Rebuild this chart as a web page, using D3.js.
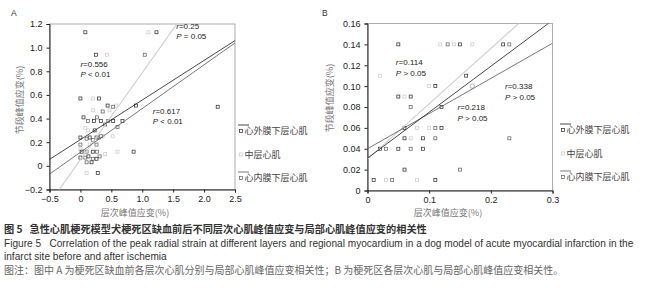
<!DOCTYPE html>
<html>
<head>
<meta charset="utf-8">
<script src="https://cdn.jsdelivr.net/npm/d3@7"></script>
<style>
  body { margin: 0; background: #fff; }
  svg { display: block; font-family: "Liberation Sans", Arial, sans-serif; }
  .cjk { font-family: "Noto Sans CJK SC", sans-serif; }
  .cap { white-space: pre; }
</style>
</head>
<body>
<div id="chart"></div>
<script>
// Panel A: peak strain of each layer vs regional strain, before ischemia
const epiA = [[0.08,1.13],[1.23,1.13],[0.25,0.94],[0.0,0.57],[0.3,0.57],[0.44,0.51],[0.9,0.51],[2.22,0.5],[0.05,0.41],[0.22,0.38],[0.33,0.38],[0.53,0.38],[0.68,0.38],[0.0,0.24],[0.15,0.24],[0.26,0.24],[0.23,0.3],[0.02,0.12],[0.2,0.12],[0.0,0.07],[0.13,0.08],[0.26,0.06],[0.18,0.03],[0.28,-0.06],[0.86,0.12]];
const midA = [[1.1,1.13],[0.43,0.94],[0.2,0.57],[0.47,0.47],[0.52,0.25],[0.6,0.12],[0.4,0.1],[0.08,0.32],[0.12,0.3],[0.0,0.14],[0.1,-0.06],[0.36,0.25],[0.15,0.18],[0.58,0.51],[0.2,0.47]];
const endoA = [[1.04,0.94],[0.53,0.5],[0.12,0.38],[0.27,0.41],[0.36,0.46],[0.45,0.38],[0.4,0.35],[0.0,0.18],[0.1,0.23],[0.3,0.24],[0.33,0.25],[0.2,0.22],[0.26,0.18],[0.1,0.12],[0.27,0.12],[0.08,0.07],[0.2,0.06],[0.31,0.08],[0.1,0.03],[0.6,0.33]];
// Panel B: infarct site
const epiB = [[0.05,0.14],[0.15,0.14],[0.22,0.14],[0.16,0.11],[0.11,0.10],[0.05,0.09],[0.07,0.09],[0.12,0.08],[0.06,0.06],[0.12,0.06],[0.06,0.05],[0.09,0.05],[0.02,0.04],[0.05,0.04],[0.09,0.04],[0.06,0.02],[0.01,0.01],[0.11,0.01]];
const midB = [[0.118,0.14],[0.14,0.14],[0.17,0.14],[0.02,0.11],[0.10,0.10],[0.06,0.09],[0.08,0.06],[0.10,0.06],[0.07,0.05],[0.03,0.01],[0.08,0.01]];
const endoB = [[0.13,0.14],[0.23,0.14],[0.07,0.08],[0.11,0.06],[0.11,0.05],[0.23,0.05],[0.03,0.04],[0.07,0.04],[0.15,0.02],[0.04,0.01]];
const circleB = [[0.17,0.10]];

// Fitted trend lines: [intercept, slope]
const fitA = { epi: [0.222, 0.335], mid: [0.052, 0.736], endo: [0.115, 0.37] };
const fitB = { epi: [0.031, 0.44], mid: [0.03, 0.53], endo: [0.04, 0.337] };

const ticksAx = [-0.5, 0, 0.5, 1.0, 1.5, 2.0, 2.5];
const ticksAy = [-0.2, 0, 0.2, 0.4, 0.6, 0.8, 1.0, 1.2];
const ticksBx = [0, 0.1, 0.2, 0.3];
const ticksBy = [0, 0.02, 0.04, 0.06, 0.08, 0.10, 0.12, 0.14, 0.16];

const notesA = [{ x: 0.0, y: 0.84, r: '0.556', p: 'P < 0.01' }, { x: 1.55, y: 1.16, r: '0.25', p: 'P = 0.05' }, { x: 1.17, y: 0.44, r: '0.617', p: 'P < 0.01' }];
const notesB = [{ x: 0.046, y: 0.12, r: '0.114', p: 'P > 0.05' }, { x: 0.223, y: 0.097, r: '0.338', p: 'P > 0.05' }, { x: 0.146, y: 0.077, r: '0.218', p: 'P > 0.05' }];

const legendLabels = ['心外膜下层心肌', '中层心肌', '心内膜下层心肌'];
const caption = [
  '图 5   急性心肌梗死模型犬梗死区缺血前后不同层次心肌峰值应变与局部心肌峰值应变的相关性',
  'Figure 5   Correlation of the peak radial strain at different layers and regional myocardium in a dog model of acute myocardial infarction in the',
  'infarct site before and after ischemia',
  '图注：图中 A 为梗死区缺血前各层次心肌分别与局部心肌峰值应变相关性；B 为梗死区各层次心肌与局部心肌峰值应变相关性。'
];

const style = {
  epi: { stroke: '#262626', line: '#1a1a1a', lw: 0.8 },
  mid: { stroke: '#c8c8c8', line: '#cfcfcf', lw: 1.1 },
  endo: { stroke: '#5a5a5a', line: '#555', lw: 0.8 }
};

const svg = d3.select('#chart').append('svg').attr('width', 647).attr('height', 300);

function panel(o) {
  const x = d3.scaleLinear().domain(o.xDom).range([o.left, o.right]);
  const y = d3.scaleLinear().domain(o.yDom).range([o.bottom, o.top]);
  const g = svg.append('g');
  const clipId = 'clip' + o.name;
  g.append('clipPath').attr('id', clipId).append('rect')
    .attr('x', o.left).attr('y', o.top).attr('width', o.right - o.left).attr('height', o.bottom - o.top);

  // light frame round the plot area
  g.append('rect').attr('x', o.left).attr('y', o.top).attr('width', o.right - o.left).attr('height', o.bottom - o.top)
    .attr('fill', 'none').attr('stroke', '#9a9a9a').attr('stroke-width', 0.8);

  g.append('g').attr('transform', `translate(0,${o.bottom})`)
    .call(d3.axisBottom(x).tickValues(o.xt).tickSize(3).tickPadding(3).tickFormat(o.fx))
    .call(a => a.selectAll('text').attr('font-size', 9).attr('fill', '#222').attr('font-family', 'Liberation Sans'))
    .call(a => a.selectAll('line,path').attr('stroke', '#222'));
  g.append('g').attr('transform', `translate(${o.left},0)`)
    .call(d3.axisLeft(y).tickValues(o.yt).tickSize(3).tickPadding(4).tickFormat(o.fy))
    .call(a => a.selectAll('text').attr('font-size', 9).attr('fill', '#222').attr('font-family', 'Liberation Sans'))
    .call(a => a.selectAll('line,path').attr('stroke', '#222'));

  const plot = g.append('g').attr('clip-path', `url(#${clipId})`);
  // points
  ['mid', 'endo', 'epi'].forEach(k => {
    plot.selectAll('.p' + k).data(o.series[k]).enter().append('rect')
      .attr('x', d => x(d[0]) - 1.5).attr('y', d => y(d[1]) - 1.5).attr('width', 3).attr('height', 3)
      .attr('fill', '#fff').attr('stroke', style[k].stroke).attr('stroke-width', 0.7);
  });
  if (o.circles) {
    plot.selectAll('.pc').data(o.circles).enter().append('circle')
      .attr('cx', d => x(d[0])).attr('cy', d => y(d[1])).attr('r', 2.2)
      .attr('fill', '#fff').attr('stroke', '#999').attr('stroke-width', 0.7);
  }
  // trend lines
  ['mid', 'endo', 'epi'].forEach(k => {
    const [b, m] = o.fit[k];
    const xs = o.xDom;
    plot.append('line')
      .attr('x1', x(xs[0])).attr('y1', y(b + m * xs[0]))
      .attr('x2', x(xs[1])).attr('y2', y(b + m * xs[1]))
      .attr('stroke', style[k].line).attr('stroke-width', style[k].lw);
  });

  // r / P annotations
  o.notes.forEach(n => {
    const t = g.append('text').attr('x', x(n.x)).attr('y', y(n.y)).attr('font-size', 8).attr('fill', '#222');
    t.append('tspan').attr('font-style', 'italic').text('r');
    t.append('tspan').text('=' + n.r);
    const t2 = g.append('text').attr('x', x(n.x)).attr('y', y(n.y) + 10.5).attr('font-size', 8).attr('fill', '#222');
    t2.append('tspan').attr('font-style', 'italic').text('P');
    t2.append('tspan').text(n.p.slice(1));
  });

  // axis titles
  g.append('text').attr('class', 'cjk').attr('x', o.xTitle[0]).attr('y', o.xTitle[1]).attr('text-anchor', 'middle')
    .attr('font-size', 9).attr('fill', '#777').text('层次峰值应变(%)');
  g.append('text').attr('class', 'cjk').attr('transform', `translate(${o.yTitle[0]},${o.yTitle[1]}) rotate(-90)`)
    .attr('text-anchor', 'middle').attr('font-size', 9).attr('fill', '#777').text('节段峰值应变(%)');
  g.append('text').attr('x', o.tag[0]).attr('y', o.tag[1]).attr('font-size', 8.5).attr('fill', '#333').text(o.name);

  // legend
  const lg = g.append('g').attr('transform', `translate(${o.legend[0]},${o.legend[1]})`);
  ['epi', 'mid', 'endo'].forEach((k, i) => {
    const yy = [0, 23.5, 47][i];
    lg.append('line').attr('x1', 0).attr('x2', k === 'mid' ? 0 : 11).attr('y1', yy - 6).attr('y2', yy - 6)
      .attr('stroke', style[k].line).attr('stroke-width', 0.8);
    lg.append('rect').attr('x', 1.5).attr('y', yy - 1.5).attr('width', 3).attr('height', 3)
      .attr('fill', '#fff').attr('stroke', style[k].stroke).attr('stroke-width', 0.7);
    lg.append('text').attr('class', 'cjk').attr('x', 6.5).attr('y', yy + 3.2).attr('font-size', 9)
      .attr('fill', '#444').text(legendLabels[i]);
  });
}

const fmtA = d => d === 0 ? '0' : d3.format('.1f')(d);
const fmtB = d => d === 0 ? '0' : d3.format('.2f')(d);

panel({
  name: 'A', xDom: [-0.5, 2.5], yDom: [-0.2, 1.2], left: 49.5, right: 235, top: 24, bottom: 189.5,
  xt: ticksAx, yt: ticksAy, fx: fmtA, fy: fmtA,
  series: { epi: epiA, mid: midA, endo: endoA }, fit: fitA, notes: notesA,
  xTitle: [135, 216], yTitle: [23, 100], tag: [11, 16], legend: [238, 131]
});
panel({
  name: 'B', xDom: [0, 0.3], yDom: [0, 0.16], left: 367.5, right: 552.5, top: 23.5, bottom: 190.5,
  xt: ticksBx, yt: ticksBy, fx: d => d === 0 ? '0' : d3.format('.1f')(d), fy: fmtB,
  series: { epi: epiB, mid: midB, endo: endoB }, circles: circleB, fit: fitB, notes: notesB,
  xTitle: [448, 216], yTitle: [333, 98], tag: [322, 16], legend: [560, 130]
});

// caption
const capY = [229, 243, 256, 270];
const capSize = [10.2, 10.1, 10.1, 10];
caption.forEach((t, i) => {
  svg.append('text').attr('class', (i === 0 || i === 3 ? 'cjk ' : '') + 'cap')
    .attr('x', 4).attr('y', capY[i] + 3.5).attr('font-size', capSize[i])
    .attr('font-weight', i === 0 ? 700 : 400)
    .attr('fill', i === 3 ? '#666' : '#333').text(t);
});
</script>
</body>
</html>
